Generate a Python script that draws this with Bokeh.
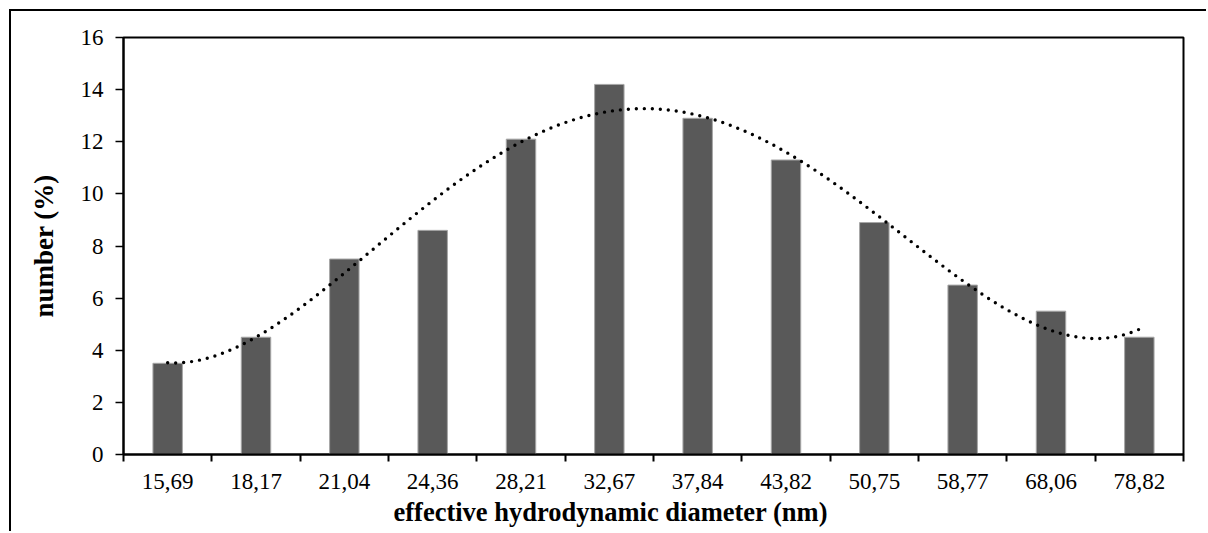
import numpy as np
from bokeh.plotting import figure
from bokeh.models import FixedTicker, Title, ColumnDataSource, Range1d
from bokeh.embed import file_html
from bokeh.resources import INLINE

# ---- data ----
diameters = ["15,69", "18,17", "21,04", "24,36", "28,21", "32,67",
             "37,84", "43,82", "50,75", "58,77", "68,06", "78,82"]
number_pct = [3.5, 4.5, 7.5, 8.6, 12.1, 14.2, 12.9, 11.3, 8.9, 6.5, 5.5, 4.5]
y_ticks = [0, 2, 4, 6, 8, 10, 12, 14, 16]
trend_order = 4

n = len(diameters)
centers = [i + 0.5 for i in range(n)]
bounds = list(range(n + 1))

# polynomial trendline fitted to the bar values (x = 1..n as in a spreadsheet)
xi = np.arange(1, n + 1)
coef = np.polyfit(xi, number_pct, trend_order)
xt = np.linspace(1, n, 300)
yt = np.polyval(coef, xt)

FONT = "Liberation Serif"

p = figure(width=1197, height=522, output_backend="svg", toolbar_location=None,
           x_range=Range1d(0, n), y_range=Range1d(0, 16),
           min_border_left=112, min_border_top=26, min_border_right=25, min_border_bottom=79)
p.styles = {"margin-left": "9px", "margin-top": "9px",
            "border-left": "2px solid black", "border-top": "2px solid black"}

src = ColumnDataSource(dict(x=centers, top=number_pct, label=diameters))
p.vbar(x="x", top="top", width=1/3, bottom=0, source=src,
       fill_color="#595959", line_color="#a6a6a6", line_width=1)

p.line(xt - 0.5, yt, line_color="black", line_width=3.4, line_dash="0 8", line_cap="round")

p.grid.visible = False
p.outline_line_color = "black"
p.outline_line_width = 2
p.background_fill_color = "white"
p.border_fill_color = "white"

# x axis
xa = p.xaxis[0]
xa.ticker = FixedTicker(ticks=centers, minor_ticks=bounds)
xa.major_label_overrides = {c: d for c, d in zip(centers, diameters)}
xa.major_tick_out = 0
xa.major_tick_in = 0
xa.minor_tick_out = 7
xa.minor_tick_in = 0
xa.minor_tick_line_color = "black"
xa.minor_tick_line_width = 2
xa.axis_line_width = 2
xa.axis_line_color = "black"
xa.major_label_text_font = FONT
xa.major_label_text_font_size = "23px"
xa.major_label_text_color = "black"
xa.major_label_standoff = 12

# y axis
ya = p.yaxis[0]
ya.ticker = FixedTicker(ticks=y_ticks, minor_ticks=[])
ya.major_tick_out = 8
ya.major_tick_in = 0
ya.major_tick_line_width = 1.5
ya.major_tick_line_color = "black"
ya.axis_line_width = 2
ya.axis_line_color = "black"
ya.major_label_text_font = FONT
ya.major_label_text_font_size = "23px"
ya.major_label_text_color = "black"
ya.major_label_standoff = 12
ya.axis_label = "number (%)"
ya.axis_label_text_font = FONT
ya.axis_label_text_font_size = "27px"
ya.axis_label_text_font_style = "bold"
ya.axis_label_text_color = "black"
ya.axis_label_standoff = 19

# x axis title (placed as in the reference, left of centre)
p.add_layout(Title(text="effective hydrodynamic diameter (nm)", align="left", offset=270,
                   text_font=FONT, text_font_size="26.5px", text_font_style="bold",
                   text_color="black", standoff=6), "below")

open("out.html", "w").write(file_html(p, INLINE))
